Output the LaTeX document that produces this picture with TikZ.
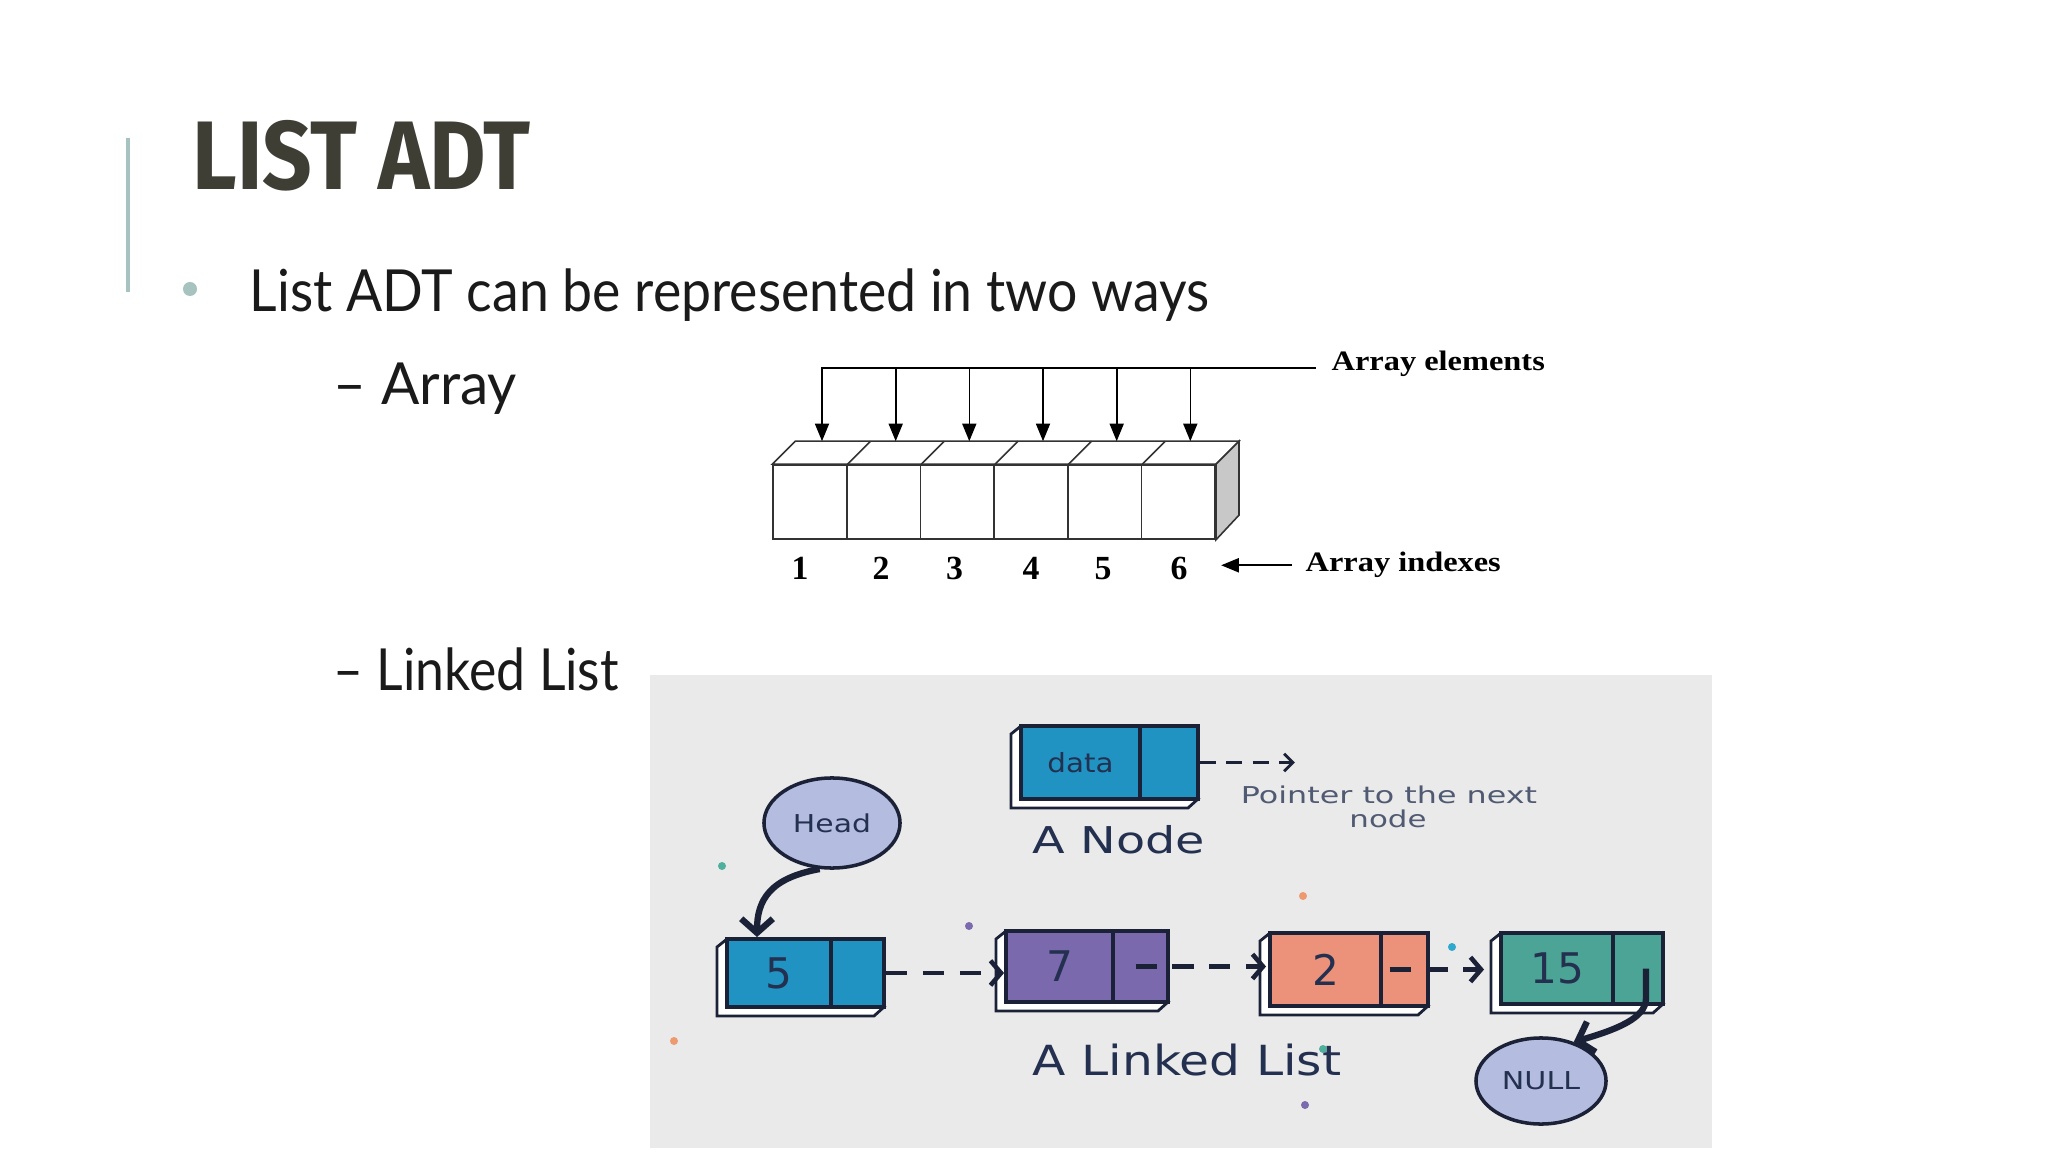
\documentclass[tikz,border=0pt]{standalone}
\usepackage{fontspec}
\usepackage{graphicx}
\setmainfont{Lato}
\newfontfamily\titlefont{Fira Sans}
\newfontfamily\serifb{Liberation Serif}
\newfontfamily\llfont{DejaVu Sans}
\usetikzlibrary{arrows.meta,shapes.geometric}
\definecolor{titlecol}{HTML}{3F3E35}
\definecolor{bodycol}{HTML}{1A1A1A}
\definecolor{accent}{HTML}{A6C3C0}
\definecolor{panelbg}{HTML}{EAEAEA}
\definecolor{navy}{HTML}{1B2238}
\definecolor{navytext}{HTML}{24304F}
\definecolor{llblue}{HTML}{2093C2}
\definecolor{llpurple}{HTML}{7A69AC}
\definecolor{llsalmon}{HTML}{EC927B}
\definecolor{llteal}{HTML}{4BA495}
\definecolor{lavender}{HTML}{B4BDE0}
\definecolor{greyface}{HTML}{C8C8C8}
\definecolor{dotteal}{HTML}{4FB0A0}
\definecolor{dotpurple}{HTML}{7B6AAE}
\definecolor{dotorange}{HTML}{EE9A70}
\definecolor{dotblue}{HTML}{2EA8CC}
\newcommand{\fitw}[2]{\resizebox{#1}{\height}{#2}}
\begin{document}
\begin{tikzpicture}[x=0.01cm,y=-0.01cm,
  txt/.style={inner sep=0pt, anchor=base west},
  ctxt/.style={inner sep=0pt, anchor=base},
  slide/.style={txt, text=bodycol, font=\fontsize{16.5}{20}\selectfont},
  cell/.style={draw=black!80, line width=0.45pt, minimum width=0.7367cm, minimum height=0.74cm, inner sep=0pt},
  arrline/.style={draw=black!80, line width=0.45pt},
  elarrow/.style={draw=black, line width=0.45pt, -{Triangle[length=5pt,width=4pt]}},
  idx/.style={ctxt, font=\serifb\bfseries\fontsize{9.6}{11}\selectfont},
  arrlabel/.style={txt, font=\serifb\bfseries\fontsize{8}{10}\selectfont},
  part/.style={draw=navy, line width=1.1pt, inner sep=0pt, text=navytext, font=\llfont\fontsize{12}{14}\selectfont},
  backplate/.style={draw=navy, line width=0.8pt, fill=white},
  dasharrow/.style={draw=navy, line width=1.3pt, dash pattern=on 6pt off 4.5pt, -{Straight Barb[length=3pt,width=7pt]}},
  curvearrow/.style={draw=navy, line width=1.8pt, -{Straight Barb[length=4pt,width=9pt]}},
  oval/.style={ellipse, draw=navy, line width=1pt, fill=lavender, inner sep=0pt, text=navytext, font=\llfont\fontsize{7}{8}\selectfont},
  lltext/.style={ctxt, text=navytext, font=\llfont\fontsize{10.5}{12}\selectfont},
  dot/.style={circle, inner sep=0pt, minimum size=0.08cm}
]
\useasboundingbox (0,0) rectangle (2048,1152);
\fill[white] (0,0) rectangle (2048,1152);

% ---------- slide text ----------
\draw[accent, line width=0.9pt] (128,138) -- (128,292);
\node[txt, text=titlecol, font=\titlefont\bfseries\fontsize{27.7}{30}\selectfont] (title) at (192,190) {\fitw{3.37cm}{LIST ADT}};
\node[circle, fill=accent, inner sep=0pt, minimum size=0.14cm] (bul) at (190,289) {};
\node[slide] (b1) at (249,312) {\fitw{9.59cm}{List ADT can be represented in two ways}};
\node[slide] (sarr) at (333,405) {\fitw{1.83cm}{– Array}};
\node[slide] (sll) at (333,690) {\fitw{2.85cm}{– Linked List}};

% ---------- array ----------
\node[cell] (c1) at (810,502) {};
\node[cell] (c2) at (883.7,502) {};
\node[cell] (c3) at (957.3,502) {};
\node[cell] (c4) at (1031,502) {};
\node[cell] (c5) at (1104.7,502) {};
\node[cell] (c6) at (1178.3,502) {};
\draw[arrline, fill=white] (c1.north west) -- ++(23,-23) -- ([shift={(23,-23)}]c6.north east) -- (c6.north east) -- cycle;
\foreach \c in {c1,c2,c3,c4,c5}
  \draw[arrline] (\c.north east) -- ++(23,-23);
\draw[arrline, fill=greyface] (c6.north east) -- ++(23,-23) -- ++(0,74) -- (c6.south east) -- cycle;

\node[arrlabel, anchor=west] (ae) at (1331,364) {\fitw{2.13cm}{Array elements}};
\coordinate (tl) at (821,368);
\draw[arrline, draw=black] (tl) -- ([xshift=-0.15cm]tl -| ae.west);
\foreach \c in {c1,c2,c3,c4,c5,c6}
  \draw[elarrow] ([shift={(12,-97)}]\c.north) -- ([shift={(12,-23)}]\c.north);

\node[idx] (i1) at (800,580) {1};
\node[idx] (i2) at (881,580) {2};
\node[idx] (i3) at (954.5,580) {3};
\node[idx] (i4) at (1031,580) {4};
\node[idx] (i5) at (1103,580) {5};
\node[idx] (i6) at (1179,580) {6};
\node[arrlabel] (ai) at (1305,572) {\fitw{1.95cm}{Array indexes}};
\draw[elarrow, shorten <=0.13cm, shorten >=0.33cm] (ai.west) -- (ai.west -| i6.east);

% ---------- linked list panel ----------
\fill[panelbg] (650,675) rectangle (1712,1148);

% back plates
\draw[backplate] (1021,726) -- (1011,734) -- (1011,808) -- (1188,808) -- (1198,799) -- cycle;
\draw[backplate] (727,939) -- (717,947) -- (717,1016) -- (874,1016) -- (884,1007) -- cycle;
\draw[backplate] (1006,931) -- (996,939) -- (996,1011) -- (1158,1011) -- (1168,1002) -- cycle;
\draw[backplate] (1270,933) -- (1260,941) -- (1260,1015) -- (1418,1015) -- (1428,1006) -- cycle;
\draw[backplate] (1501,933) -- (1491,941) -- (1491,1013) -- (1653,1013) -- (1663,1004) -- cycle;

% single node
\node[part, fill=llblue, minimum width=1.19cm, minimum height=0.73cm, font=\llfont\fontsize{7.5}{9}\selectfont] (dd) at (1080.5,762.5) {\fitw{0.66cm}{data}};
\node[part, fill=llblue, minimum width=0.58cm, minimum height=0.73cm] (dp) at (1169,762.5) {};
\draw[dasharrow, line width=0.8pt, dash pattern=on 4.5pt off 3pt, -{Straight Barb[length=2.5pt,width=5pt]}] (dp.east) -- ++(95,0);
\node[lltext, text=navytext!80!white, font=\llfont\fontsize{6.6}{8}\selectfont] (ptr1) at (1389,803) {\fitw{2.96cm}{Pointer to the next}};
\node[lltext, text=navytext!80!white, font=\llfont\fontsize{6.6}{8}\selectfont] (ptr2) at (1388,827) {\fitw{0.77cm}{node}};
\node[lltext] (anode) at (1119,853) {\fitw{1.72cm}{A Node}};

% list nodes
\node[part, fill=llblue, minimum width=1.04cm, minimum height=0.68cm] (n5d) at (779,973) {5};
\node[part, fill=llblue, minimum width=0.53cm, minimum height=0.68cm] (n5p) at (857.5,973) {};
\node[part, fill=llpurple, minimum width=1.07cm, minimum height=0.71cm] (n7d) at (1059.5,966.5) {7};
\node[part, fill=llpurple, minimum width=0.55cm, minimum height=0.71cm] (n7p) at (1140.5,966.5) {};
\node[part, fill=llsalmon, minimum width=1.11cm, minimum height=0.73cm] (n2d) at (1325.5,969.5) {2};
\node[part, fill=llsalmon, minimum width=0.47cm, minimum height=0.73cm] (n2p) at (1404.5,969.5) {};
\node[part, fill=llteal, minimum width=1.12cm, minimum height=0.71cm] (n15d) at (1557,968.5) {15};
\node[part, fill=llteal, minimum width=0.50cm, minimum height=0.71cm] (n15p) at (1638,968.5) {};

\draw[dasharrow] (n5p.east) -- (n5p.east -| n7d.west);
\draw[dasharrow] ([xshift=-0.05cm]n7p.center) -- ([xshift=-0.02cm]n7p.center -| n2d.west);
\draw[dasharrow] ([xshift=-0.15cm]n2p.center) -- ([xshift=-0.15cm]n2p.center -| n15d.west);

\node[oval, minimum width=1.36cm, minimum height=0.90cm] (head) at (832,823) {\fitw{0.78cm}{Head}};
\node[oval, minimum width=1.30cm, minimum height=0.86cm] (null) at (1541,1081) {\fitw{0.78cm}{NULL}};

\draw[curvearrow] (head.255) .. controls (770,878) and (757,900) .. ([xshift=-0.22cm]n5d.north);
\draw[curvearrow] ([xshift=0.08cm]n15p.center) -- ++(0,30) .. controls +(0,20) and (1615,1030) .. (null.50);

\node[lltext, font=\llfont\fontsize{11.8}{13}\selectfont] (allist) at (1187,1075) {\fitw{3.08cm}{A Linked List}};

% dots
\node[dot, fill=dotteal] (d1) at (722,866) {};
\node[dot, fill=dotpurple] (d2) at (969,926) {};
\node[dot, fill=dotorange] (d3) at (1303,896) {};
\node[dot, fill=dotblue] (d4) at (1452,947) {};
\node[dot, fill=dotorange] (d5) at (674,1041) {};
\node[dot, fill=dotteal] (d6) at (1323,1049) {};
\node[dot, fill=dotpurple] (d7) at (1305,1105) {};
\end{tikzpicture}
\end{document}
